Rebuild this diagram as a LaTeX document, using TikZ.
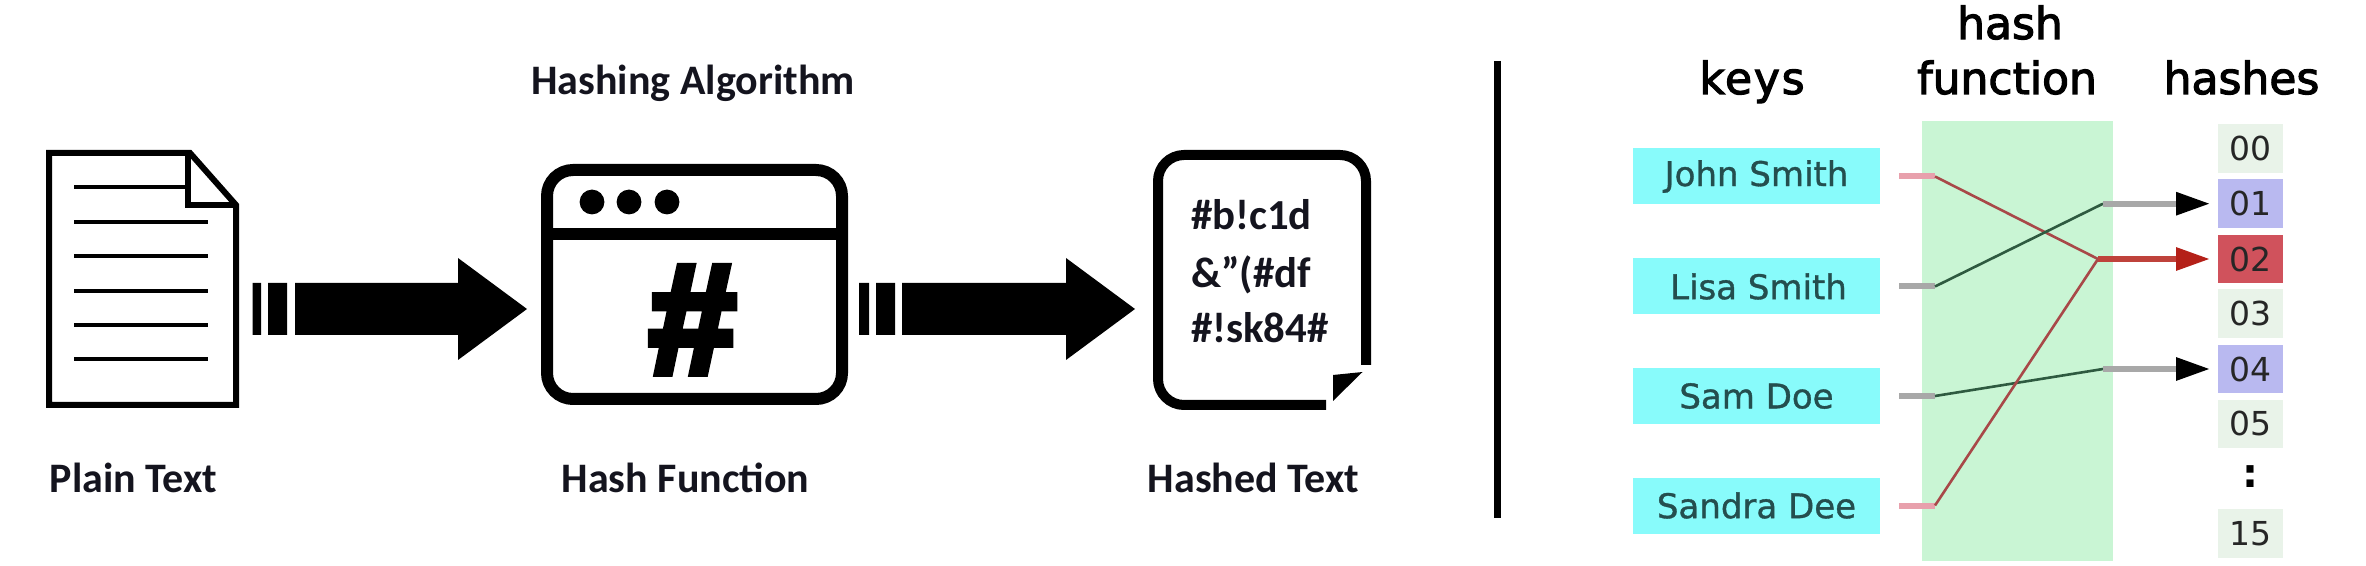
\documentclass[tikz,border=0pt]{standalone}
\usepackage{fontspec}
\setmainfont{Carlito}
\newfontfamily\vera{DejaVu Sans}
\newfontfamily\verahead[FakeBold=2.6]{DejaVu Sans}
\newfontfamily\verakey[FakeBold=1]{DejaVu Sans}
\newfontfamily\hashglyph[FakeBold=5]{Liberation Sans Bold}
\usetikzlibrary{arrows.meta}
\definecolor{ink}{HTML}{000000}
\definecolor{labelink}{HTML}{14141E}
\definecolor{keyfill}{HTML}{88FBFB}
\definecolor{keyink}{HTML}{244E4E}
\definecolor{greenband}{HTML}{C9F5D4}
\definecolor{cellplain}{HTML}{E9F3E9}
\definecolor{cellblue}{HTML}{B9B9F0}
\definecolor{cellred}{HTML}{D0525C}
\definecolor{stubpink}{HTML}{E8A0AC}
\definecolor{stubgrey}{HTML}{A8A8A8}
\definecolor{wirered}{HTML}{A84848}
\definecolor{wiredark}{HTML}{2E5A40}
\definecolor{headred}{HTML}{B42018}
\tikzset{
  x=0.5pt,y=-0.5pt,
  iconline/.style={draw=ink,line join=miter},
  caption/.style={anchor=base,inner sep=0pt,outer sep=0pt,text=labelink,font=\bfseries\fontsize{21}{24}\selectfont},
  hashedtxt/.style={anchor=base west,inner sep=0pt,outer sep=0pt,text=labelink,font=\bfseries\fontsize{21.4}{24}\selectfont},
  head/.style={anchor=base,inner sep=0pt,outer sep=0pt,text=black,font=\verahead\fontsize{22}{26}\selectfont},
  keybox/.style={fill=keyfill,inner sep=0pt,outer sep=0pt,minimum width=123.5pt,minimum height=28pt,text=keyink,font=\verakey\fontsize{17}{20}\selectfont},
  cell/.style={inner sep=0pt,outer sep=0pt,minimum width=32.5pt,minimum height=24.2pt,text=black!85,font=\vera\fontsize{16.5}{20}\selectfont},
  stub/.style={line width=3pt,shorten <=9.5pt},
  wire/.style={line width=1.3pt},
  hashout/.style={line width=3pt,shorten >=4pt,-{Triangle[length=17pt,width=11pt,color=#1,fill=#1]}},
}
\begin{document}
\begin{tikzpicture}
\useasboundingbox (0,0) rectangle (2366,566);

% ---- plain text document
\draw[iconline,line width=3pt] (49,153) -- (190,153) -- (236,205) -- (236,405) -- (49,405) -- cycle;
\draw[iconline,line width=3pt] (188,153) -- (188,205) -- (236,205);
\foreach \ly/\lx in {187/185,222/208,256/208,291/208,325/208,359/208}
  \draw[ink,line width=2.1pt] (74,\ly) -- (\lx,\ly);

% ---- block arrows
\fill[ink] (252.5,283) rectangle (261,335) (268,283) rectangle (287,335);
\fill[ink] (295,283) -- (458,283) -- (458,258) -- (527,309) -- (458,360) -- (458,335) -- (295,335) -- cycle;
\fill[ink] (859,283) rectangle (869,335) (876,283) rectangle (895,335);
\fill[ink] (902,283) -- (1066,283) -- (1066,258) -- (1135,309) -- (1066,360) -- (1066,335) -- (902,335) -- cycle;

% ---- hash function window
\node[draw=ink,line width=6pt,rounded corners=13pt,minimum width=147.5pt,minimum height=114.5pt,inner sep=0pt] (win) at (694.5,284.5) {};
\draw[ink,line width=6pt] (win.west |- 0,234) -- (win.east |- 0,234);
\foreach \dx in {592,629,667}
  \fill[ink] (\dx,202) circle (6.2pt);
\node[inner sep=0pt,outer sep=0pt,anchor=base,font=\hashglyph\fontsize{78}{80}\selectfont,text=ink] (sharp) at (692.5,373) {\#};

% ---- hashed document
\draw[ink,line width=5pt,rounded corners=13pt] (1366,365) -- (1366,155) -- (1158,155) -- (1158,405) -- (1326,405);
\fill[ink] (1333,375) -- (1362.5,372) -- (1333,401) -- cycle;
\node[hashedtxt] (h1) at (1191,230) {\#b!c1d};
\node[hashedtxt] (h2) at (1191,288) {\&”(\#df};
\node[hashedtxt] (h3) at (1191,343) {\#!sk84\#};

% ---- captions
\node[caption] (capalg) at (693,95) {Hashing Algorithm};
\node[caption] (cappl) at (133.5,493) {Plain Text};
\node[caption] (capfn) at (685.5,493) {Hash Function};
\node[caption] (capht) at (1253.5,493) {Hashed Text};

% ---- divider
\draw[ink,line width=3.5pt] (1497,61) -- (1497,518);

% ---- right panel
\fill[greenband] (1921.5,121) rectangle (2113,561);
\node[head] (tkeys) at (1752,94) {\addfontfeature{LetterSpace=4}keys};
\node[head] (thash) at (2010,39) {hash};
\node[head] (tfunc) at (2007,94) {function};
\node[head] (thashes) at (2241.5,94) {hashes};

\node[keybox] (k1) at (1756.5,176.5) {John Smith};
\node[keybox] (k2) at (1756.5,286.5) {\hspace*{2pt}Lisa Smith\raisebox{1.5pt}{}};
\node[keybox] (k3) at (1756.5,396) {Sam Doe};
\node[keybox] (k4) at (1756.5,505.5) {Sandra Dee};

\node[cell,fill=cellplain] (c0) at (2250.5,148.7) {00};
\node[cell,fill=cellblue] (c1) at (2250.5,203.7) {01};
\node[cell,fill=cellred] (c2) at (2250.5,259) {02};
\node[cell,fill=cellplain] (c3) at (2250.5,313.7) {03};
\node[cell,fill=cellblue] (c4) at (2250.5,369) {04};
\node[cell,fill=cellplain] (c5) at (2250.5,423.8) {05};
\node[inner sep=0pt,outer sep=0pt,font=\vera\bfseries\fontsize{20}{24}\selectfont,text=black] (cdots) at (2250,477) {:};
\node[cell,fill=cellplain] (c15) at (2250.5,533.5) {15};

\coordinate (j1) at (1935,176.5);
\coordinate (j2) at (1935,286.5);
\coordinate (j3) at (1935,396);
\coordinate (j4) at (1935,505.5);
\coordinate (m1) at (2103,203.7);
\coordinate (m2) at (2098,259);
\coordinate (m4) at (2103,369);

\draw[stub,stubpink] (k1.east) -- (j1);
\draw[stub,stubgrey] (k2.east) -- (j2);
\draw[stub,stubgrey] (k3.east) -- (j3);
\draw[stub,stubpink] (k4.east) -- (j4);
\draw[wire,wirered] (j1) -- (m2);
\draw[wire,wiredark] (j2) -- (m1);
\draw[wire,wiredark] (j3) -- (m4);
\draw[wire,wirered] (j4) -- (m2);
\draw[hashout=black,stubgrey] (m1) -- (c1.west);
\draw[hashout=headred,headred!85!white] (m2) -- (c2.west);
\draw[hashout=black,stubgrey] (m4) -- (c4.west);
\end{tikzpicture}
\end{document}
